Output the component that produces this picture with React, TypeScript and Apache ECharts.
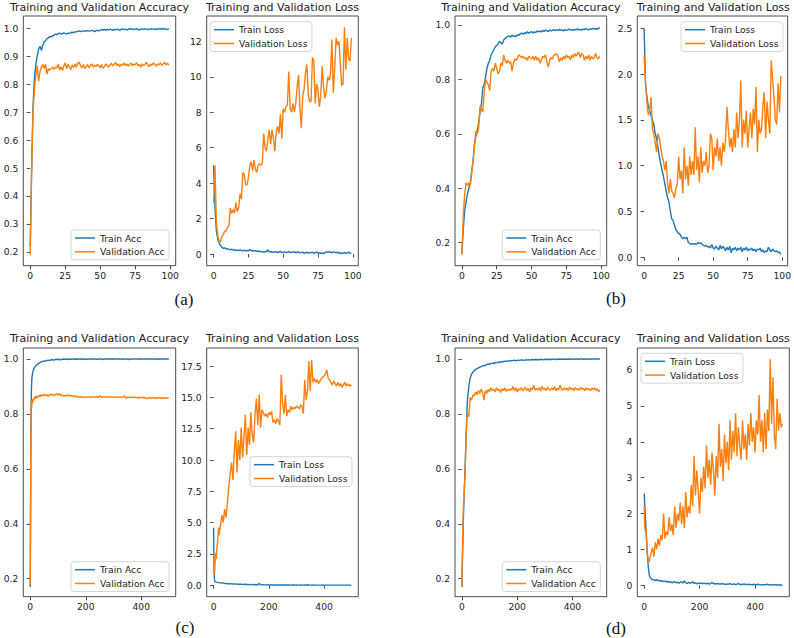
import React, { useEffect, useRef } from "react";
import * as echarts from "echarts";

// ---------- epochs ----------
const E100 = Array.from({ length: 100 }, (_, i) => i);
const E500 = [
  0, 1, 2, 3, 4, 5, 6, 8, 10, 12, 15, 18, 20,
  25, 30, 35, 40, 45, 50, 55, 60, 65, 70,
  75, 80, 85, 90, 95, 100, 105, 110, 115, 120,
  125, 130, 135, 140, 145, 150, 155, 160, 165, 170,
  175, 180, 185, 190, 195, 200, 205, 210, 215, 220,
  225, 230, 235, 240, 245, 250, 255, 260, 265, 270,
  275, 280, 285, 290, 295, 300, 305, 310, 315, 320,
  325, 330, 335, 340, 345, 350, 355, 360, 365, 370,
  375, 380, 385, 390, 395, 400, 405, 410, 415, 420,
  425, 430, 435, 440, 445, 450, 455, 460, 465, 470,
  475, 480, 485, 490, 495, 499,
];

// ---------- tick labels ----------
const X100_TICKS = [0, 25, 50, 75, 100];
const X500_TICKS = [0, 200, 400];
const A_ACC_TICKS = [0.2, 0.3, 0.4, 0.5, 0.6, 0.7, 0.8, 0.9, 1.0];
const A_LOSS_TICKS = [0, 2, 4, 6, 8, 10, 12];
const B_ACC_TICKS = [0.2, 0.4, 0.6, 0.8, 1.0];
const B_LOSS_TICKS = [0, 0.5, 1.0, 1.5, 2.0, 2.5];
const C_ACC_TICKS = [0.2, 0.4, 0.6, 0.8, 1.0];
const C_LOSS_TICKS = [0, 2.5, 5, 7.5, 10, 12.5, 15, 17.5];
const D_ACC_TICKS = [0.2, 0.4, 0.6, 0.8, 1.0];
const D_LOSS_TICKS = [0, 1, 2, 3, 4, 5, 6];

// ---------- (a) ----------
const A_TRAIN_ACC = [
  0.22, 0.5, 0.72, 0.82, 0.87, 0.9, 0.925, 0.935, 0.92, 0.94,
  0.95, 0.955, 0.962, 0.965, 0.97, 0.968, 0.972, 0.975, 0.978, 0.976,
  0.98, 0.982, 0.978, 0.98, 0.983, 0.98, 0.978, 0.982, 0.981, 0.984,
  0.985, 0.983, 0.987, 0.986, 0.988, 0.99, 0.987, 0.989, 0.99, 0.988,
  0.99, 0.991, 0.989, 0.99, 0.992, 0.99, 0.987, 0.99, 0.993, 0.99,
  0.992, 0.995, 0.993, 0.995, 0.992, 0.995, 0.993, 0.996, 0.994, 0.992,
  0.995, 0.993, 0.996, 0.994, 0.992, 0.995, 0.997, 0.994, 0.996, 0.993,
  0.995, 0.998, 0.995, 0.997, 0.994, 0.996, 0.998, 0.995, 0.993, 0.996,
  0.997, 0.995, 0.998, 0.996, 0.994, 0.997, 0.995, 0.998, 0.996, 0.994,
  0.997, 0.995, 0.998, 0.996, 0.999, 0.995, 0.998, 0.996, 0.994, 0.998,
];
const A_VAL_ACC = [
  0.19, 0.48, 0.7, 0.78, 0.83, 0.865, 0.81, 0.845, 0.86, 0.87,
  0.855, 0.87, 0.835, 0.855, 0.85, 0.855, 0.86, 0.852, 0.86, 0.858,
  0.872, 0.85, 0.862, 0.848, 0.865, 0.875, 0.855, 0.87, 0.86, 0.852,
  0.868, 0.858, 0.872, 0.86, 0.875, 0.878, 0.865, 0.858, 0.87, 0.855,
  0.862, 0.87, 0.858, 0.866, 0.872, 0.86, 0.868, 0.862, 0.87, 0.865,
  0.858, 0.87, 0.856, 0.862, 0.872, 0.866, 0.86, 0.868, 0.874, 0.865,
  0.87, 0.877, 0.866, 0.872, 0.862, 0.87, 0.868, 0.875, 0.866, 0.872,
  0.864, 0.87, 0.875, 0.866, 0.872, 0.868, 0.876, 0.865, 0.87, 0.86,
  0.872, 0.866, 0.87, 0.878, 0.868, 0.862, 0.872, 0.866, 0.876, 0.87,
  0.864, 0.872, 0.868, 0.876, 0.866, 0.872, 0.878, 0.868, 0.874, 0.868,
];
const A_TRAIN_LOSS = [
  5.0, 2.6, 1.3, 0.85, 0.6, 0.48, 0.38, 0.32, 0.35, 0.28,
  0.3, 0.26, 0.24, 0.27, 0.22, 0.25, 0.2, 0.22, 0.19, 0.23,
  0.2, 0.17, 0.22, 0.18, 0.21, 0.17, 0.26, 0.18, 0.2, 0.16,
  0.19, 0.14, 0.17, 0.13, 0.15, 0.12, 0.1, 0.14, 0.12, 0.24,
  0.1, 0.15, 0.09, 0.12, 0.1, 0.13, 0.08, 0.11, 0.16, 0.08,
  0.1, 0.12, 0.07, 0.1, 0.14, 0.08, 0.11, 0.09, 0.13, 0.07,
  0.1, 0.12, 0.06, 0.09, 0.11, 0.03, 0.08, 0.1, 0.05, 0.09,
  0.06, 0.1, 0.04, 0.08, 0.11, 0.05, 0.07, 0.03, 0.06, 0.02,
  0.08, 0.12, 0.09, 0.13, 0.1, 0.07, 0.12, 0.09, 0.06, 0.1,
  0.04, 0.08, 0.02, 0.05, 0.09, 0.03, 0.07, 0.11, 0.05, 0.03,
];
const A_VAL_LOSS = [
  2.9, 5.0, 1.8, 1.0, 0.75, 0.7, 1.0, 1.1, 1.3, 1.3,
  1.5, 1.6, 2.6, 2.3, 2.5, 2.3, 2.9, 2.4, 2.6, 3.4,
  3.1, 4.6, 4.5, 3.9, 3.9, 4.3, 5.0, 5.2, 4.7, 5.3,
  4.8, 4.6, 5.0, 5.1, 5.0, 5.1, 6.8, 6.0, 5.8, 6.5,
  7.0, 6.2, 7.0, 6.5, 5.8, 6.9, 7.2, 6.8, 7.9, 6.5,
  8.2, 8.0, 8.3, 8.4, 10.3, 8.2, 8.0, 8.5, 8.0, 8.5,
  9.4, 10.1, 8.3, 7.1, 8.9, 9.3, 10.2, 10.7, 9.0, 8.6,
  8.6, 11.1, 10.9, 8.5, 9.6, 9.3, 8.3, 9.0, 10.6, 9.4,
  8.8, 9.2, 10.0, 9.8, 10.2, 12.1, 9.1, 10.5, 12.2, 11.8,
  12.0, 10.8, 9.5, 9.6, 12.8, 10.4, 12.2, 11.0, 10.9, 12.2,
];

// ---------- (b) ----------
const B_TRAIN_ACC = [
  0.16, 0.25, 0.32, 0.35, 0.38, 0.4, 0.42, 0.46, 0.5, 0.56,
  0.59, 0.61, 0.64, 0.68, 0.71, 0.77, 0.78, 0.81, 0.84, 0.86,
  0.87, 0.89, 0.9, 0.91, 0.92, 0.925, 0.93, 0.94, 0.935, 0.93,
  0.945, 0.95, 0.955, 0.958, 0.96, 0.955, 0.963, 0.958, 0.96, 0.957,
  0.965, 0.962, 0.968, 0.97, 0.966, 0.972, 0.968, 0.975, 0.97, 0.973,
  0.976, 0.97, 0.975, 0.972, 0.978, 0.975, 0.978, 0.974, 0.98, 0.976,
  0.982, 0.978, 0.976, 0.982, 0.978, 0.98, 0.983, 0.979, 0.982, 0.98,
  0.984, 0.98, 0.982, 0.978, 0.983, 0.98, 0.982, 0.985, 0.981, 0.983,
  0.98, 0.984, 0.982, 0.986, 0.982, 0.984, 0.981, 0.985, 0.983, 0.987,
  0.984, 0.982, 0.986, 0.984, 0.988, 0.985, 0.987, 0.984, 0.988, 0.99,
];
const B_VAL_ACC = [
  0.155, 0.3, 0.38, 0.42, 0.41, 0.42, 0.41, 0.45, 0.5, 0.55,
  0.61, 0.6, 0.62, 0.7, 0.69, 0.68, 0.75, 0.8, 0.79, 0.78,
  0.76, 0.83, 0.84, 0.83, 0.86, 0.84, 0.82, 0.83, 0.86, 0.85,
  0.89, 0.87, 0.86, 0.87, 0.86, 0.865, 0.83, 0.86, 0.875, 0.87,
  0.88, 0.89, 0.885, 0.88, 0.885, 0.875, 0.88, 0.87, 0.885, 0.88,
  0.875, 0.885, 0.87, 0.885, 0.87, 0.88, 0.86, 0.87, 0.885, 0.88,
  0.89, 0.865, 0.845, 0.87, 0.88, 0.875, 0.89, 0.89, 0.895, 0.885,
  0.865, 0.88, 0.87, 0.885, 0.875, 0.89, 0.88, 0.885, 0.87, 0.89,
  0.88, 0.895, 0.885, 0.895, 0.9, 0.88, 0.895, 0.89, 0.87, 0.885,
  0.875, 0.89, 0.87, 0.885, 0.875, 0.88, 0.895, 0.88, 0.875, 0.885,
];
const B_TRAIN_LOSS = [
  2.5, 1.9, 1.75, 1.65, 1.6, 1.55, 1.5, 1.45, 1.35, 1.3,
  1.2, 1.1, 1.02, 0.95, 0.88, 0.8, 0.72, 0.65, 0.6, 0.5,
  0.42, 0.4, 0.35, 0.3, 0.28, 0.26, 0.25, 0.22, 0.2, 0.22,
  0.2, 0.22, 0.16, 0.15, 0.14, 0.15, 0.14, 0.15, 0.14, 0.16,
  0.15, 0.16, 0.14, 0.13, 0.12, 0.13, 0.11, 0.12, 0.1, 0.14,
  0.1, 0.09, 0.12, 0.1, 0.08, 0.13, 0.09, 0.12, 0.1, 0.07,
  0.11, 0.08, 0.12, 0.05, 0.1, 0.08, 0.11, 0.07, 0.1, 0.08,
  0.11, 0.06, 0.1, 0.08, 0.11, 0.07, 0.09, 0.08, 0.1, 0.07,
  0.09, 0.06, 0.09, 0.08, 0.1, 0.06, 0.08, 0.05, 0.07, 0.06,
  0.11, 0.08, 0.06, 0.09, 0.07, 0.06, 0.07, 0.05, 0.06, 0.03,
];
const B_VAL_LOSS = [
  2.2, 1.9, 1.7, 1.55, 1.6, 1.75, 1.4, 1.35, 1.25, 1.15,
  1.35, 1.3, 1.2, 1.1, 1.05, 0.95, 1.05, 0.8, 0.7, 0.85,
  0.72, 0.7, 0.65, 0.75, 0.8, 1.1, 0.85, 0.95, 0.7, 1.2,
  0.85, 1.0, 0.78, 1.1, 0.9, 1.05, 0.9, 1.42, 0.95, 1.1,
  0.82, 1.2, 0.92, 1.05, 1.0, 1.15, 0.92, 1.0, 1.35, 1.3,
  0.95, 1.2, 1.1, 1.3, 1.05, 1.2, 1.0, 1.25, 1.15, 1.3,
  1.64, 1.4, 1.2, 1.3, 1.15, 1.4, 1.2, 1.58, 1.3, 1.5,
  1.93, 1.2, 1.5, 1.35, 1.6, 1.2, 1.4, 1.58, 1.3, 1.62,
  1.45, 1.86, 1.15, 1.5, 1.35, 1.4, 1.65, 1.8, 1.3, 1.7,
  1.5, 1.35, 2.15, 1.95, 1.75, 1.5, 1.45, 1.9, 1.58, 1.98,
];

// ---------- (c) ---------- (values at E500 epochs)
const C_TRAIN_ACC = [
  0.17, 0.35, 0.6, 0.8, 0.88, 0.91, 0.93, 0.945, 0.955, 0.962, 0.968, 0.972, 0.975,
  0.98, 0.984, 0.987, 0.99, 0.991, 0.993, 0.992, 0.995, 0.996, 0.995,
  0.997, 0.998, 0.996, 0.998, 0.999, 0.998, 0.999, 0.997, 0.999, 1.0,
  0.999, 1.0, 0.998, 1.0, 0.999, 1.0, 1.0, 0.999, 1.0, 0.999,
  1.0, 1.0, 0.999, 1.0, 1.0, 0.998, 1.0, 1.0, 1.0, 0.999,
  1.0, 1.0, 1.0, 0.999, 1.0, 1.0, 1.0, 0.998, 1.0, 1.0,
  1.0, 1.0, 1.0, 1.0, 0.999, 1.0, 1.0, 1.0, 1.0, 1.0,
  1.0, 1.0, 0.999, 1.0, 1.0, 1.0, 0.998, 1.0, 1.0, 1.0,
  1.0, 1.0, 1.0, 1.0, 1.0, 0.999, 1.0, 1.0, 1.0, 1.0,
  1.0, 1.0, 1.0, 1.0, 1.0, 1.0, 1.0, 0.999, 1.0, 1.0,
  1.0, 1.0, 1.0, 1.0, 1.0, 1.0,
];
const C_VAL_ACC = [
  0.18, 0.45, 0.7, 0.8, 0.84, 0.82, 0.85, 0.838, 0.855, 0.848, 0.862, 0.855, 0.866,
  0.858, 0.868, 0.862, 0.87, 0.865, 0.872, 0.866, 0.87, 0.864, 0.871,
  0.868, 0.872, 0.866, 0.87, 0.874, 0.868, 0.875, 0.866, 0.87, 0.864,
  0.868, 0.865, 0.87, 0.866, 0.868, 0.864, 0.866, 0.862, 0.866, 0.862,
  0.86, 0.864, 0.86, 0.862, 0.86, 0.862, 0.861, 0.863, 0.86, 0.862,
  0.861, 0.863, 0.86, 0.864, 0.859, 0.866, 0.862, 0.86, 0.863, 0.861,
  0.862, 0.86, 0.863, 0.861, 0.862, 0.86, 0.862, 0.861, 0.86, 0.862,
  0.86, 0.862, 0.861, 0.866, 0.856, 0.862, 0.86, 0.861, 0.859, 0.86,
  0.861, 0.859, 0.86, 0.858, 0.86, 0.859, 0.861, 0.858, 0.86, 0.855,
  0.858, 0.859, 0.857, 0.86, 0.858, 0.859, 0.857, 0.858, 0.859, 0.857,
  0.858, 0.857, 0.859, 0.858, 0.857, 0.858,
];
const C_TRAIN_LOSS = [
  4.6, 2.5, 1.0, 0.5, 0.35, 0.3, 0.28, 0.26, 0.25, 0.24, 0.22, 0.21, 0.2,
  0.19, 0.18, 0.17, 0.15, 0.14, 0.12, 0.13, 0.11, 0.12, 0.1,
  0.1, 0.09, 0.1, 0.08, 0.08, 0.09, 0.07, 0.06, 0.08, 0.06,
  0.07, 0.05, 0.06, 0.05, 0.06, 0.04, 0.05, 0.04, 0.15, 0.04,
  0.03, 0.04, 0.03, 0.03, 0.04, 0.03, 0.02, 0.03, 0.02, 0.03,
  0.02, 0.03, 0.02, 0.06, 0.02, 0.02, 0.03, 0.02, 0.02, 0.02,
  0.02, 0.01, 0.02, 0.02, 0.01, 0.02, 0.01, 0.01, 0.02, 0.01,
  0.01, 0.02, 0.01, 0.04, 0.01, 0.01, 0.01, 0.02, 0.01, 0.01,
  0.01, 0.01, 0.01, 0.01, 0.02, 0.01, 0.01, 0.01, 0.01, 0.01,
  0.01, 0.01, 0.01, 0.01, 0.01, 0.01, 0.01, 0.01, 0.01, 0.01,
  0.01, 0.01, 0.01, 0.01, 0.01, 0.01,
];
const C_VAL_LOSS = [
  2.4, 1.5, 1.0, 0.9, 1.2, 1.6, 2.0, 2.6, 2.1, 3.0, 3.6, 4.6, 4.0,
  4.8, 5.6, 5.0, 6.1, 5.4, 6.6, 7.8, 8.9, 9.8, 8.4,
  10.6, 12.3, 9.0, 11.6, 10.0, 12.6, 10.2, 11.8, 13.6, 10.4,
  12.6, 11.2, 13.8, 12.0, 11.4, 13.6, 14.9, 12.8, 15.2, 12.6,
  14.0, 13.8, 13.5, 13.7, 13.4, 13.8, 13.6, 13.9, 13.0, 13.2,
  12.9, 13.3, 13.1, 12.8, 16.8, 14.5, 13.7, 15.2, 13.5, 14.0,
  13.8, 14.3, 14.0, 14.2, 14.1, 14.3, 14.2, 14.1, 14.4, 14.3,
  13.7, 16.4, 14.8, 15.5, 17.9, 15.5, 18.0, 16.2, 16.5, 16.2,
  16.4, 16.1, 16.3, 16.5, 16.6, 16.7, 16.9, 17.2, 16.5, 16.4,
  16.2, 16.0, 16.3, 16.1, 15.9, 16.2, 15.9, 16.1, 15.8, 16.0,
  16.2, 15.9, 16.1, 15.9, 16.0, 15.9,
];

// ---------- (d) ----------
const D_TRAIN_ACC = [
  0.17, 0.22, 0.27, 0.31, 0.35, 0.4, 0.44, 0.5, 0.56, 0.62, 0.72, 0.8, 0.85,
  0.9, 0.93, 0.945, 0.952, 0.958, 0.962, 0.965, 0.968, 0.97, 0.972,
  0.975, 0.977, 0.976, 0.98, 0.982, 0.98, 0.984, 0.985, 0.983, 0.987,
  0.986, 0.988, 0.99, 0.987, 0.991, 0.99, 0.992, 0.991, 0.993, 0.994,
  0.992, 0.995, 0.994, 0.996, 0.993, 0.995, 0.996, 0.995, 0.997, 0.996,
  0.995, 0.997, 0.996, 0.998, 0.996, 0.997, 0.998, 0.997, 0.998, 0.997,
  0.998, 0.997, 0.999, 0.998, 0.997, 0.999, 0.998, 0.999, 0.998, 0.999,
  0.998, 0.999, 0.999, 0.998, 0.999, 1.0, 0.999, 0.999, 1.0, 0.999,
  1.0, 0.999, 1.0, 0.999, 1.0, 1.0, 0.999, 1.0, 1.0, 0.999,
  1.0, 1.0, 1.0, 0.999, 1.0, 1.0, 1.0, 1.0, 0.999, 1.0,
  1.0, 1.0, 1.0, 1.0, 1.0, 0.999,
];
const D_VAL_ACC = [
  0.17, 0.25, 0.3, 0.35, 0.4, 0.45, 0.48, 0.5, 0.55, 0.6, 0.7, 0.78, 0.8,
  0.79, 0.86, 0.85, 0.87, 0.865, 0.88, 0.87, 0.885, 0.875, 0.89,
  0.88, 0.85, 0.885, 0.875, 0.89, 0.88, 0.895, 0.885, 0.89, 0.88,
  0.895, 0.885, 0.89, 0.878, 0.892, 0.885, 0.895, 0.882, 0.89, 0.885,
  0.892, 0.886, 0.9, 0.885, 0.895, 0.88, 0.892, 0.887, 0.896, 0.884,
  0.89, 0.898, 0.885, 0.892, 0.88, 0.895, 0.888, 0.905, 0.886, 0.893,
  0.887, 0.896, 0.884, 0.9, 0.889, 0.893, 0.885, 0.897, 0.89, 0.886,
  0.895, 0.888, 0.9, 0.884, 0.893, 0.887, 0.905, 0.89, 0.886, 0.895,
  0.888, 0.894, 0.885, 0.898, 0.889, 0.893, 0.884, 0.896, 0.888, 0.892,
  0.886, 0.897, 0.889, 0.893, 0.885, 0.895, 0.888, 0.892, 0.884, 0.893,
  0.889, 0.895, 0.886, 0.892, 0.88, 0.887,
];
const D_TRAIN_LOSS = [
  2.55, 2.4, 2.25, 2.1, 1.95, 1.8, 1.65, 1.4, 1.1, 0.8, 0.5, 0.3, 0.24,
  0.18, 0.16, 0.15, 0.13, 0.16, 0.12, 0.14, 0.11, 0.13, 0.1,
  0.12, 0.09, 0.11, 0.08, 0.1, 0.07, 0.09, 0.1, 0.07, 0.09,
  0.06, 0.08, 0.1, 0.06, 0.12, 0.07, 0.05, 0.08, 0.06, 0.07,
  0.1, 0.05, 0.07, 0.04, 0.06, 0.05, 0.07, 0.04, 0.06, 0.05,
  0.04, 0.06, 0.03, 0.05, 0.08, 0.04, 0.05, 0.03, 0.05, 0.04,
  0.03, 0.05, 0.03, 0.04, 0.02, 0.04, 0.03, 0.05, 0.02, 0.03,
  0.04, 0.02, 0.03, 0.05, 0.02, 0.03, 0.02, 0.04, 0.02, 0.03,
  0.02, 0.03, 0.02, 0.01, 0.03, 0.02, 0.01, 0.03, 0.02, 0.01,
  0.02, 0.01, 0.02, 0.01, 0.03, 0.01, 0.02, 0.01, 0.01, 0.02,
  0.01, 0.01, 0.02, 0.0, 0.01, 0.0,
];
const D_VAL_LOSS = [
  2.2, 1.9, 1.6, 1.55, 1.5, 1.55, 1.6, 1.3, 1.0, 0.8, 0.7, 0.65, 0.75,
  0.9, 1.05, 0.8, 1.2, 1.0, 1.3, 1.1, 1.4, 1.25, 2.0,
  1.3, 1.5, 1.4, 1.9, 1.5, 1.7, 1.4, 2.2, 1.6, 2.0,
  1.8, 2.3, 1.7, 2.2, 1.6, 2.6, 1.9, 2.2, 2.0, 2.8,
  2.2, 3.6, 2.5, 3.2, 2.6, 2.0, 3.0, 2.6, 3.3, 2.7,
  3.9, 3.0, 3.5, 2.8, 3.7, 3.2, 2.5, 3.6, 3.0, 4.5,
  3.3, 3.8, 2.9, 4.2, 3.4, 4.0, 3.2, 4.6, 3.5, 4.3,
  3.7, 4.8, 3.6, 4.4, 3.9, 3.5, 4.6, 3.8, 4.2, 3.5,
  4.5, 3.9, 4.8, 4.0, 4.4, 3.7, 4.6, 4.2, 5.3, 4.0,
  4.6, 3.7, 4.8, 3.8, 4.9, 4.3, 6.3, 4.5, 5.8, 4.2,
  3.8, 5.2, 4.3, 4.8, 4.4, 4.5,
];

const TITLE_ACC = "Training and Validation Accuracy";
const TITLE_LOSS = "Training and Validation Loss";
const CAPTIONS = ["(a)", "(b)", "(c)", "(d)"];

const BLUE = "#1f77b4";
const ORANGE = "#ff7f0e";
const FONT = "DejaVu Sans";
const INK = "#222222";

type Panel = {
  grid: { left: number; top: number; width: number; height: number };
  x: [number, number];
  xt: number[];
  y: [number, number];
  yt: number[];
  dec: number;
  epochs: number[];
  series: [string, number[], string][];
  legend: { left: number; top: number };
  title: string;
};

const TOP = { top: 16, height: 249.7 };
const BOT = { top: 348, height: 248.7 };

const PANELS: Panel[] = [
  {
    grid: { left: 23.3, width: 152.4, ...TOP }, x: [-4.95, 103.95], xt: X100_TICKS,
    y: [0.151, 1.043], yt: A_ACC_TICKS, dec: 1, epochs: E100,
    series: [["Train Acc", A_TRAIN_ACC, BLUE], ["Validation Acc", A_VAL_ACC, ORANGE]],
    legend: { left: 71, top: 230 }, title: TITLE_ACC,
  },
  {
    grid: { left: 206.7, width: 151.6, ...TOP }, x: [-4.95, 103.95], xt: X100_TICKS,
    y: [-0.66, 13.43], yt: A_LOSS_TICKS, dec: 0, epochs: E100,
    series: [["Train Loss", A_TRAIN_LOSS, BLUE], ["Validation Loss", A_VAL_LOSS, ORANGE]],
    legend: { left: 210, top: 21.7 }, title: TITLE_LOSS,
  },
  {
    grid: { left: 455, width: 151.7, ...TOP }, x: [-4.95, 103.95], xt: X100_TICKS,
    y: [0.1155, 1.033], yt: B_ACC_TICKS, dec: 1, epochs: E100,
    series: [["Train Acc", B_TRAIN_ACC, BLUE], ["Validation Acc", B_VAL_ACC, ORANGE]],
    legend: { left: 502.3, top: 230 }, title: TITLE_ACC,
  },
  {
    grid: { left: 637.3, width: 152, ...TOP }, x: [-4.95, 103.95], xt: X100_TICKS,
    y: [-0.092, 2.634], yt: B_LOSS_TICKS, dec: 1, epochs: E100,
    series: [["Train Loss", B_TRAIN_LOSS, BLUE], ["Validation Loss", B_VAL_LOSS, ORANGE]],
    legend: { left: 681, top: 21.7 }, title: TITLE_LOSS,
  },
  {
    grid: { left: 23.3, width: 152.4, ...BOT }, x: [-24.95, 523.95], xt: X500_TICKS,
    y: [0.1344, 1.04], yt: C_ACC_TICKS, dec: 1, epochs: E500,
    series: [["Train Acc", C_TRAIN_ACC, BLUE], ["Validation Acc", C_VAL_ACC, ORANGE]],
    legend: { left: 71, top: 561.7 }, title: TITLE_ACC,
  },
  {
    grid: { left: 206.7, width: 151.6, ...BOT }, x: [-24.95, 523.95], xt: X500_TICKS,
    y: [-0.91, 18.94], yt: C_LOSS_TICKS, dec: 1, epochs: E500,
    series: [["Train Loss", C_TRAIN_LOSS, BLUE], ["Validation Loss", C_VAL_LOSS, ORANGE]],
    legend: { left: 250, top: 456.7 }, title: TITLE_LOSS,
  },
  {
    grid: { left: 455, width: 151.7, ...BOT }, x: [-24.95, 523.95], xt: X500_TICKS,
    y: [0.1344, 1.04], yt: D_ACC_TICKS, dec: 1, epochs: E500,
    series: [["Train Acc", D_TRAIN_ACC, BLUE], ["Validation Acc", D_VAL_ACC, ORANGE]],
    legend: { left: 502.3, top: 561.7 }, title: TITLE_ACC,
  },
  {
    grid: { left: 637.3, width: 152, ...BOT }, x: [-24.95, 523.95], xt: X500_TICKS,
    y: [-0.318, 6.613], yt: D_LOSS_TICKS, dec: 0, epochs: E500,
    series: [["Train Loss", D_TRAIN_LOSS, BLUE], ["Validation Loss", D_VAL_LOSS, ORANGE]],
    legend: { left: 641, top: 353.3 }, title: TITLE_LOSS,
  },
];

const CAPTION_POS = [
  [184, 299.5],
  [616, 298.5],
  [185, 627],
  [616, 628],
];
const TITLE_Y = [7.5, 338];

function buildOption() {
  const tickStyle = { color: INK, width: 0.8 };
  const labelStyle = { fontSize: 9.2, fontFamily: FONT, color: INK };
  const graphics: any[] = [];
  PANELS.forEach((p, i) => {
    graphics.push({
      type: "text",
      x: p.grid.left + p.grid.width / 2,
      y: TITLE_Y[i < 4 ? 0 : 1],
      style: {
        text: p.title,
        font: `11px "${FONT}"`,
        fill: INK,
        align: "center",
        verticalAlign: "middle",
        textAlign: "center",
        textVerticalAlign: "middle",
      },
    });
  });
  CAPTIONS.forEach((c, i) => {
    graphics.push({
      type: "text",
      x: CAPTION_POS[i][0],
      y: CAPTION_POS[i][1],
      style: {
        text: c,
        font: `17px "Liberation Serif"`,
        fill: "#111",
        align: "center",
        verticalAlign: "middle",
        textAlign: "center",
        textVerticalAlign: "middle",
      },
    });
  });

  return {
    animation: false,
    backgroundColor: "#ffffff",
    grid: PANELS.map((p) => ({
      ...p.grid,
      show: true,
      borderColor: INK,
      borderWidth: 0.8,
      backgroundColor: "transparent",
    })),
    xAxis: PANELS.map((p, i) => ({
      type: "value",
      gridIndex: i,
      min: p.x[0],
      max: p.x[1],
      axisLine: { show: false },
      splitLine: { show: false },
      axisTick: { show: true, inside: false, length: 3.5, customValues: p.xt, lineStyle: tickStyle },
      axisLabel: { ...labelStyle, margin: 5, customValues: p.xt, formatter: (v: number) => String(v) },
    })),
    yAxis: PANELS.map((p, i) => ({
      type: "value",
      gridIndex: i,
      min: p.y[0],
      max: p.y[1],
      axisLine: { show: false },
      splitLine: { show: false },
      axisTick: { show: true, inside: false, length: 3.5, customValues: p.yt, lineStyle: tickStyle },
      axisLabel: {
        ...labelStyle,
        margin: 5,
        customValues: p.yt,
        formatter: (v: number) => v.toFixed(p.dec),
      },
    })),
    legend: PANELS.map((p) => ({
      orient: "vertical",
      left: p.legend.left,
      top: p.legend.top,
      data: p.series.map((s) => ({ name: s[0], icon: "rect" })),
      itemWidth: 20,
      itemHeight: 1.5,
      itemGap: 4.8,
      padding: [3.5, 4.5, 3.5, 4],
      backgroundColor: "rgba(255,255,255,0.8)",
      borderColor: "#cccccc",
      borderWidth: 0.8,
      borderRadius: 3,
      selectedMode: false,
      textStyle: { fontSize: 9.2, fontFamily: FONT, color: INK },
    })),
    series: PANELS.flatMap((p, i) =>
      p.series.map(([name, vals, color]) => ({
        type: "line",
        name,
        xAxisIndex: i,
        yAxisIndex: i,
        data: vals.map((v, k) => [p.epochs[k], v]),
        symbol: "none",
        showSymbol: false,
        lineStyle: { color, width: 1.4 },
        itemStyle: { color },
        emphasis: { disabled: true },
      }))
    ),
    graphic: graphics,
  };
}

export default function App() {
  const ref = useRef<HTMLDivElement>(null);
  useEffect(() => {
    if (!ref.current) return;
    const chart = echarts.init(ref.current, undefined, { renderer: "svg" });
    chart.setOption(buildOption() as any);
    return () => chart.dispose();
  }, []);
  return (
    <div
      ref={ref}
      style={{ position: "absolute", left: 0, top: 0, width: 794, height: 638, background: "#fff" }}
    />
  );
}
